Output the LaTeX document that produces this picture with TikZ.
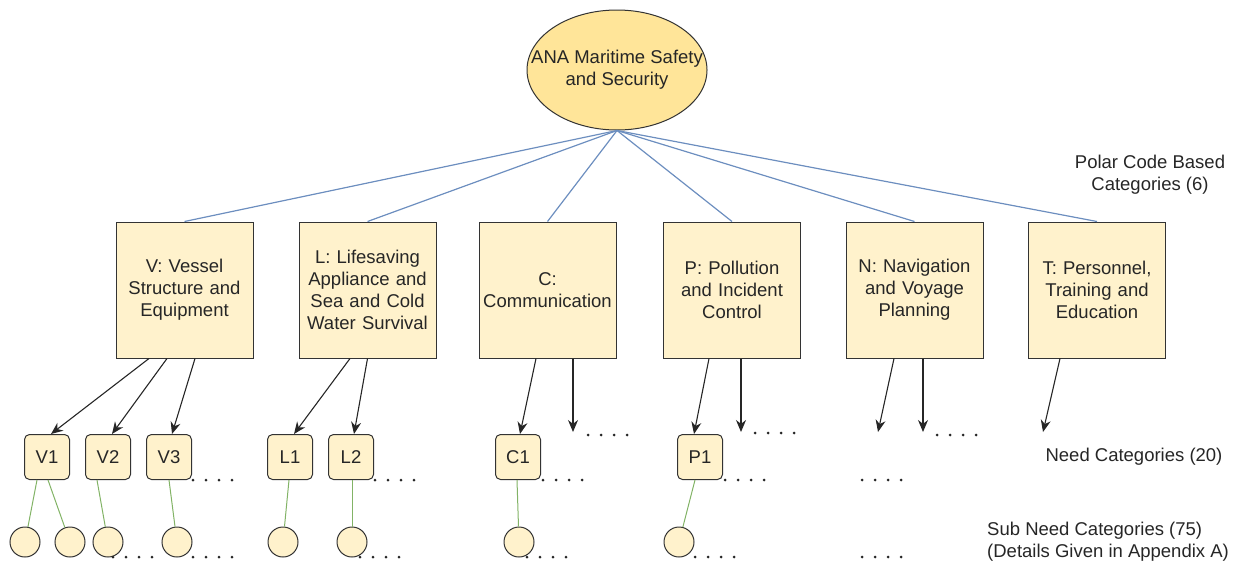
\documentclass[tikz,border=0pt]{standalone}
\usepackage{fontspec}
\setmainfont{Liberation Sans}
\usetikzlibrary{shapes.geometric,arrows.meta}

\definecolor{boxfill}{HTML}{FFF2CC}
\definecolor{rootfill}{HTML}{FFE599}
\definecolor{linkblue}{HTML}{6C8EBF}
\definecolor{linkgreen}{HTML}{82B366}

\tikzset{
  txt/.style={font=\fontsize{18.5}{22}\selectfont, text=black!85},
  rootnode/.style={txt, ellipse, draw=black!80, line width=1pt, fill=rootfill,
    minimum width=180pt, minimum height=120pt, inner xsep=-24pt, inner ysep=18pt, align=center},
  catbox/.style={txt, rectangle, draw=black!80, line width=1pt, fill=boxfill,
    minimum width=137pt, minimum height=136pt, text width=130pt, align=center, inner sep=0pt},
  needbox/.style={txt, rectangle, rounded corners=5pt, draw=black!80, line width=1pt,
    fill=boxfill, minimum size=45pt, inner sep=0pt},
  subnode/.style={circle, draw=black!80, line width=1pt, fill=boxfill,
    minimum size=30pt, inner sep=0pt},
  toplink/.style={draw=linkblue, line width=1.2pt},
  needlink/.style={draw=black!85, line width=1.1pt, -{Stealth[length=12pt,width=10pt]}},
  sublink/.style={draw=linkgreen, line width=1pt},
}

\begin{document}
\begin{tikzpicture}[x=1pt,y=-1pt]
        \useasboundingbox (0,0) rectangle (1236,565);

        % Root
        \node[rootnode] (root) at (617,70) {ANA Maritime Safety\\and Security};

        % Polar Code based categories
        \node[catbox] (catV) at (184.5,290) {V: Vessel\\Structure and\\Equipment};
        \node[catbox] (catL) at (367.5,290) {L: Lifesaving\\Appliance and\\Sea and Cold\\Water Survival};
        \node[catbox] (catC) at (547.5,290) {C:\\Communication};
        \node[catbox] (catP) at (732,290) {P: Pollution\\and Incident\\Control};
        \node[catbox] (catN) at (914.5,290) {N: Navigation\\and Voyage\\Planning};
        \node[catbox] (catT) at (1097,290) {T: Personnel,\\Training and\\Education};

        \foreach \c in {catV,catL,catC,catP,catN,catT}
            \draw[toplink] (root.south) -- (\c.north);

        % Need categories
        \node[needbox] (needV1) at (47,457) {V1};
        \node[needbox] (needV2) at (108,457) {V2};
        \node[needbox] (needV3) at (169,457) {V3};
        \node[needbox] (needL1) at (290,457) {L1};
        \node[needbox] (needL2) at (351,457) {L2};
        \node[needbox] (needC1) at (518,457) {C1};
        \node[needbox] (needP1) at (700,457) {P1};

        % Free arrow ends
        \coordinate (endC2) at (573,432);
        \coordinate (endP2) at (741,432);
        \coordinate (endN1) at (878,432);
        \coordinate (endN2) at (923,432);
        \coordinate (endT1) at (1043,432);

        \draw[needlink] ([xshift=-35.5pt]catV.south) -- ([xshift=4pt]needV1.north);
        \draw[needlink] ([xshift=-17.5pt]catV.south) -- ([xshift=4pt]needV2.north);
        \draw[needlink] ([xshift=10.5pt]catV.south) -- ([xshift=3pt]needV3.north);
        \draw[needlink] ([xshift=-17.5pt]catL.south) -- ([xshift=4pt]needL1.north);
        \draw[needlink] (catL.south) -- ([xshift=3pt]needL2.north);
        \draw[needlink] ([xshift=-11.5pt]catC.south) -- ([xshift=2pt]needC1.north);
        \draw[needlink] ([xshift=25.5pt]catC.south) -- (endC2);
        \draw[needlink] ([xshift=-23pt]catP.south) -- ([xshift=-6pt]needP1.north);
        \draw[needlink] ([xshift=9pt]catP.south) -- (endP2);
        \draw[needlink] ([xshift=-20.5pt]catN.south) -- (endN1);
        \draw[needlink] ([xshift=8.5pt]catN.south) -- (endN2);
        \draw[needlink] ([xshift=-37pt]catT.south) -- (endT1);

        % Sub need categories
        \node[subnode] (subV1a) at (25,542) {};
        \node[subnode] (subV1b) at (70,542) {};
        \node[subnode] (subV2a) at (108,542) {};
        \node[subnode] (subV3a) at (177,542) {};
        \node[subnode] (subL1a) at (283,542) {};
        \node[subnode] (subL2a) at (352,542) {};
        \node[subnode] (subC1a) at (519,542) {};
        \node[subnode] (subP1a) at (679,542) {};

        \draw[sublink] ([xshift=-10pt]needV1.south) -- (subV1a);
        \draw[sublink] ([xshift=1pt]needV1.south) -- (subV1b);
        \draw[sublink] ([xshift=-11pt]needV2.south) -- (subV2a);
        \draw[sublink] (needV3.south) -- (subV3a);
        \draw[sublink] ([xshift=-1pt]needL1.south) -- (subL1a);
        \draw[sublink] ([xshift=1pt]needL2.south) -- (subL2a);
        \draw[sublink] ([xshift=-1pt]needC1.south) -- (subC1a);
        \draw[sublink] ([xshift=-5pt]needP1.south) -- (subP1a);

        % Dotted continuations
        \foreach \x/\y in {193/480, 375/480, 543/480, 725/480, 862/480,
                           588/435, 755/433, 937/435,
                           113/557, 193/557, 360/557, 527/557, 695/557, 862/557}
            \foreach \i in {0,...,3}
                \fill[black!85] (\x+13*\i,\y) circle (1.5pt);

        % Level labels
        \node[txt, align=center] (lblPolar) at (1150,175) {Polar Code Based\\Categories (6)};
        \node[txt] (lblNeed) at (1134,457) {Need Categories (20)};
        \node[txt, align=left, anchor=west, inner sep=0pt] (lblSub) at (987,542)
            {Sub Need Categories (75)\\(Details Given in Appendix A)};
\end{tikzpicture}
\end{document}
